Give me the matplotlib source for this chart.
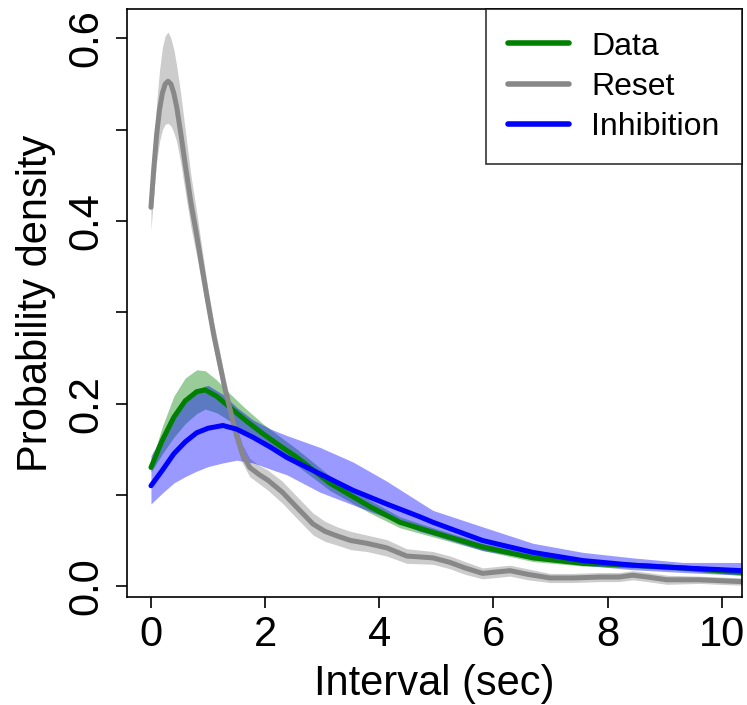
import matplotlib
matplotlib.use('Agg')
import matplotlib.pyplot as plt
import numpy as np

plt.rcParams['font.family'] = ['Liberation Sans', 'DejaVu Sans']

# Data (green)
data_x = [0, 0.2, 0.4, 0.6, 0.8, 0.95, 1.15, 1.38, 1.65, 1.96, 2.3, 2.56, 3.13, 3.84, 4.36, 4.94, 5.81, 6.69, 7.57, 8.44, 9.32, 10.35]
data_y = [0.13, 0.16, 0.185, 0.203, 0.213, 0.215, 0.208, 0.196, 0.182, 0.167, 0.152, 0.141, 0.113, 0.087, 0.07, 0.059, 0.043, 0.031, 0.025, 0.023, 0.020, 0.015]
data_hi = [0.135, 0.175, 0.208, 0.228, 0.237, 0.236, 0.226, 0.211, 0.195, 0.178, 0.162, 0.150, 0.121, 0.094, 0.076, 0.064, 0.047, 0.035, 0.028, 0.026, 0.023, 0.018]
data_lo = [0.125, 0.145, 0.163, 0.178, 0.189, 0.194, 0.19, 0.181, 0.169, 0.156, 0.142, 0.132, 0.105, 0.080, 0.064, 0.054, 0.039, 0.027, 0.022, 0.020, 0.017, 0.012]

# Reset (gray)
reset_x = [0, 0.05, 0.1, 0.15, 0.2, 0.25, 0.3, 0.35, 0.4, 0.45, 0.52, 0.6, 0.7, 0.8, 0.9, 1.0, 1.1, 1.2, 1.3, 1.4, 1.5, 1.6, 1.73, 1.9, 2.05, 2.3, 2.56, 2.84, 3.05, 3.26, 3.5, 3.78, 4.13, 4.48, 4.94, 5.24, 5.5, 5.81, 6.29, 6.6, 6.99, 7.4, 7.86, 8.2, 8.44, 8.7, 9.04, 9.6, 10.35]
reset_y = [0.415, 0.458, 0.495, 0.522, 0.540, 0.550, 0.553, 0.550, 0.540, 0.525, 0.497, 0.462, 0.42, 0.385, 0.347, 0.31, 0.275, 0.245, 0.215, 0.19, 0.165, 0.145, 0.13, 0.122, 0.116, 0.103, 0.086, 0.068, 0.060, 0.055, 0.050, 0.047, 0.042, 0.033, 0.031, 0.026, 0.020, 0.014, 0.017, 0.013, 0.009, 0.009, 0.010, 0.010, 0.012, 0.010, 0.007, 0.007, 0.005]
reset_hi = [0.42, 0.475, 0.53, 0.565, 0.59, 0.603, 0.607, 0.600, 0.588, 0.570, 0.540, 0.500, 0.450, 0.410, 0.367, 0.325, 0.289, 0.258, 0.227, 0.201, 0.175, 0.155, 0.14, 0.132, 0.127, 0.115, 0.098, 0.080, 0.071, 0.065, 0.060, 0.056, 0.051, 0.041, 0.038, 0.033, 0.027, 0.020, 0.023, 0.019, 0.014, 0.014, 0.015, 0.015, 0.017, 0.015, 0.012, 0.011, 0.009]
reset_lo = [0.39, 0.43, 0.465, 0.487, 0.500, 0.506, 0.507, 0.504, 0.497, 0.487, 0.464, 0.432, 0.393, 0.362, 0.328, 0.295, 0.261, 0.232, 0.203, 0.179, 0.155, 0.135, 0.12, 0.112, 0.105, 0.091, 0.074, 0.056, 0.049, 0.045, 0.040, 0.038, 0.033, 0.025, 0.024, 0.019, 0.013, 0.008, 0.011, 0.007, 0.004, 0.004, 0.005, 0.005, 0.007, 0.005, 0.002, 0.003, 0.001]

# Inhibition (blue)
inh_x = [0, 0.2, 0.4, 0.6, 0.8, 1.0, 1.26, 1.5, 1.79, 2.1, 2.38, 2.96, 3.54, 4.13, 4.71, 4.94, 5.81, 6.69, 7.57, 8.44, 9.32, 10.35]
inh_y = [0.11, 0.127, 0.145, 0.158, 0.168, 0.173, 0.176, 0.172, 0.163, 0.152, 0.141, 0.123, 0.105, 0.09, 0.076, 0.070, 0.050, 0.037, 0.028, 0.023, 0.020, 0.017]
inh_hi = [0.143, 0.165, 0.19, 0.206, 0.216, 0.22, 0.21, 0.196, 0.182, 0.172, 0.165, 0.152, 0.136, 0.115, 0.092, 0.083, 0.065, 0.047, 0.037, 0.031, 0.026, 0.026]
inh_lo = [0.09, 0.102, 0.113, 0.12, 0.126, 0.131, 0.135, 0.138, 0.135, 0.128, 0.122, 0.103, 0.089, 0.075, 0.060, 0.056, 0.039, 0.030, 0.023, 0.018, 0.015, 0.012]

fig = plt.figure(figsize=(7.47, 7.05), dpi=100)
ax = fig.add_axes([0.170, 0.153, 0.823, 0.834])

lw = 3.6
ax.fill_between(data_x, data_lo, data_hi, color=(0, 0.5, 0), alpha=0.4, lw=0)
ax.plot(data_x, data_y, color=(0, 0.5, 0), lw=lw, solid_capstyle='round', label='Data')
ax.fill_between(reset_x, reset_lo, reset_hi, color='#808080', alpha=0.4, lw=0)
ax.plot(reset_x, reset_y, color='#888888', lw=lw, solid_capstyle='round', label='Reset')
ax.fill_between(inh_x, inh_lo, inh_hi, color='blue', alpha=0.4, lw=0)
ax.plot(inh_x, inh_y, color='blue', lw=lw, solid_capstyle='round', label='Inhibition')

ax.set_xlim(-0.42, 10.35)
ax.set_ylim(-0.012, 0.632)
ax.set_xticks([0, 2, 4, 6, 8, 10])
ax.set_yticks([0.0, 0.1, 0.2, 0.3, 0.4, 0.5, 0.6])
ax.set_yticklabels(['0.0', '', '0.2', '', '0.4', '', '0.6'])
ax.tick_params(axis='both', labelsize=30, length=8, width=1.2, direction='out')
ax.tick_params(axis='x', pad=5)
ax.tick_params(axis='y', pad=7)
for lab in ax.get_yticklabels():
    lab.set_rotation(90)
    lab.set_va('center')
for s in ax.spines.values():
    s.set_linewidth(1.2)

ax.set_xlabel('Interval (sec)', fontsize=30, labelpad=6)
ax.set_ylabel('Probability density', fontsize=30, labelpad=7)

leg = ax.legend(loc='upper right', fontsize=23, frameon=True, fancybox=False,
                edgecolor='black', borderaxespad=0, handlelength=1.9,
                handletextpad=0.7, labelspacing=0.32, borderpad=0.7)
leg.get_frame().set_linewidth(1.2)
for h in leg.get_lines():
    h.set_linewidth(4)

plt.savefig('out.png', dpi=100)
